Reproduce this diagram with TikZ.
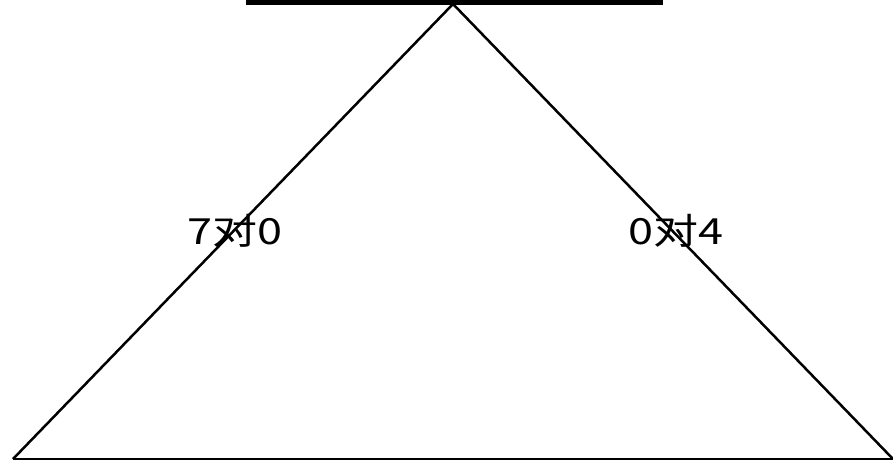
\documentclass[tikz,border=0pt]{standalone}
\usepackage{fontspec}
\newfontfamily\cjk{Noto Sans CJK SC}
\usetikzlibrary{positioning}

\begin{document}
\begin{tikzpicture}[
    x=1pt, y=-1pt,
    leg/.style={draw=black, line width=2.5pt},
    bar/.style={draw=black, line width=5pt},
    score/.style={font=\cjk\fontsize{36}{36}\selectfont, inner sep=0pt, xscale=1.25}
]
\useasboundingbox (0,0) rectangle (893,461);
% top bar and the triangle corners
\coordinate (barL) at (246,2.5);
\coordinate (barR) at (663,2.5);
\coordinate (apex) at (453,4);
\coordinate (baseL) at (13,459);
\coordinate (baseR) at (893,459);
\draw[bar] (barL) -- (barR);
\draw[leg, line join=miter] (baseL) -- (apex) -- (baseR);
\draw[leg] (baseL) -- (baseR);
% scores on the legs
\node[score] (left) at (235,231) {7对0};
\node[score] (right) at (676,231) {0对4};
\end{tikzpicture}
\end{document}
